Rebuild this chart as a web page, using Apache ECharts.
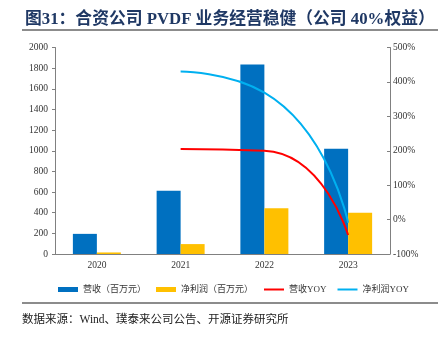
<!DOCTYPE html>
<html>
<head>
<meta charset="utf-8">
<script src="https://cdn.jsdelivr.net/npm/echarts@6/dist/echarts.min.js"></script>
<style>
  html, body { margin: 0; padding: 0; background: #fff; }
  #chart { width: 438px; height: 344px; }
</style>
</head>
<body>
<div id="chart"></div>
<script>
// 合资公司 PVDF 经营数据
const years = ['2020', '2021', '2022', '2023'];
const revenue = [195, 612, 1835, 1020];        // 营收（百万元）
const netProfit = [15, 96, 443, 400];          // 净利润（百万元）
const revenueYoy = [null, 205, 200, -45];      // 营收YOY（%）
const netProfitYoy = [null, 430, 369, -9];     // 净利润YOY（%）

const FONT = "'Liberation Serif', 'Noto Sans CJK SC', serif";
const AXIS_GRAY = '#808080';
const LABEL = { color: '#333', fontSize: 9.5, fontFamily: FONT };

const chart = echarts.init(document.getElementById('chart'), null, { renderer: 'canvas' });

chart.setOption({
  animation: false,
  backgroundColor: '#fff',
  title: {
    text: '图31：合资公司 PVDF 业务经营稳健（公司 40%权益）',
    left: 20, top: 6,
    textStyle: { color: '#1F3864', fontSize: 16.8, fontWeight: 'bold', fontFamily: FONT }
  },
  graphic: [
    { type: 'line', shape: { x1: 22, y1: 30, x2: 438, y2: 30 }, style: { stroke: '#8c8c8c', lineWidth: 2 } },
    { type: 'line', shape: { x1: 22, y1: 303, x2: 438, y2: 303 }, style: { stroke: '#8c8c8c', lineWidth: 2 } },
    {
      type: 'text', left: 22, top: 314,
      style: { text: '数据来源：Wind、璞泰来公司公告、开源证券研究所', fill: '#222', fontSize: 11.5, fontFamily: FONT }
    }
  ],
  grid: { left: 55, right: 48, top: 47.5, bottom: 90 },
  legend: {
    left: 53, top: 280,
    itemWidth: 20, itemHeight: 5, itemGap: 10,
    textStyle: { color: '#333', fontSize: 9, fontFamily: FONT },
    data: [
      { name: '营收（百万元）', icon: 'rect' },
      { name: '净利润（百万元）', icon: 'rect' },
      { name: '营收YOY', itemStyle: { opacity: 0 } },
      { name: '净利润YOY', itemStyle: { opacity: 0 } }
    ]
  },
  xAxis: {
    type: 'category',
    data: years,
    axisLine: { lineStyle: { color: AXIS_GRAY } },
    axisTick: { inside: true, length: 3, lineStyle: { color: AXIS_GRAY } },
    axisLabel: Object.assign({ margin: 7 }, LABEL)
  },
  yAxis: [
    {
      type: 'value', min: 0, max: 2000, interval: 200,
      axisLine: { show: true, lineStyle: { color: AXIS_GRAY } },
      axisTick: { show: true, length: 3, lineStyle: { color: AXIS_GRAY } },
      splitLine: { show: false },
      axisLabel: Object.assign({ margin: 7, formatter: v => String(v) }, LABEL)
    },
    {
      type: 'value', min: -100, max: 500, interval: 100,
      axisLine: { show: true, lineStyle: { color: AXIS_GRAY } },
      axisTick: { show: true, inside: true, length: 3, lineStyle: { color: AXIS_GRAY } },
      splitLine: { show: false },
      axisLabel: Object.assign({ margin: 3, formatter: v => v + '%' }, LABEL)
    }
  ],
  series: [
    {
      name: '营收（百万元）', type: 'bar', data: revenue,
      barWidth: 24, barGap: '0%',
      itemStyle: { color: '#0070C0' }
    },
    {
      name: '净利润（百万元）', type: 'bar', data: netProfit,
      barWidth: 24, barGap: '0%',
      itemStyle: { color: '#FFC000' }
    },
    {
      name: '营收YOY', type: 'line', yAxisIndex: 1, data: revenueYoy,
      smooth: 0.6, symbol: 'none',
      lineStyle: { color: '#FF0000', width: 2 }, itemStyle: { color: '#FF0000' }
    },
    {
      name: '净利润YOY', type: 'line', yAxisIndex: 1, data: netProfitYoy,
      smooth: 0.6, symbol: 'none',
      lineStyle: { color: '#00B0F0', width: 2 }, itemStyle: { color: '#00B0F0' }
    }
  ]
});
</script>
</body>
</html>
